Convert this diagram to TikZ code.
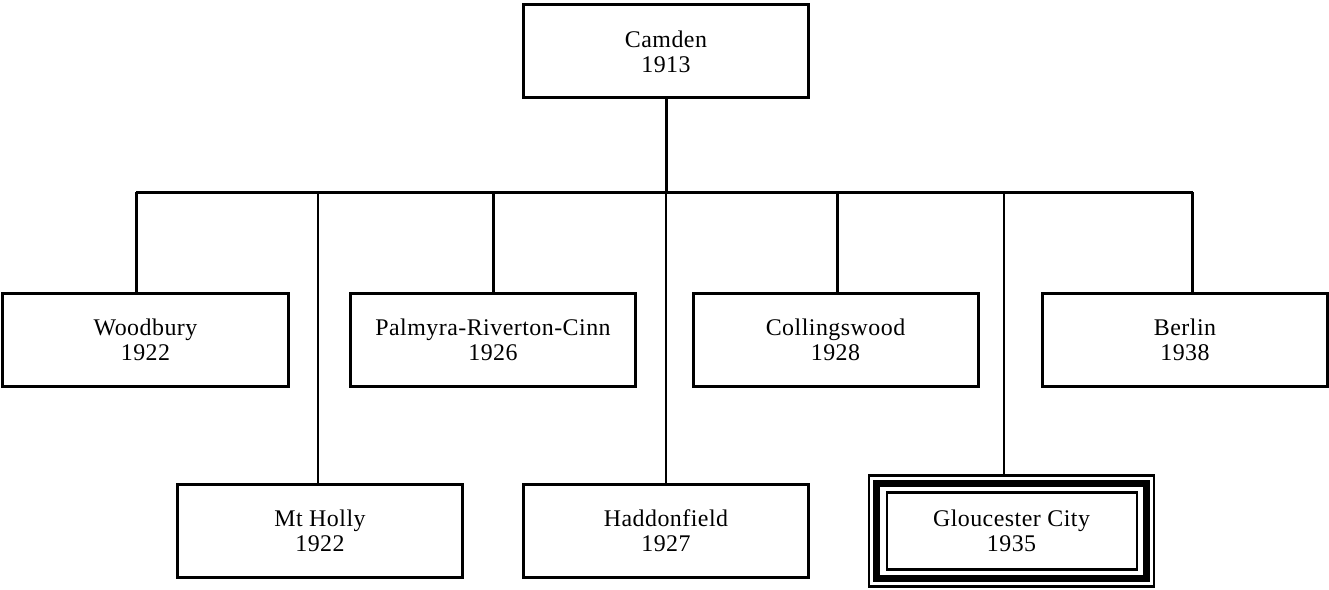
\documentclass[tikz,border=0pt]{standalone}
\usepackage{fontspec}
\setmainfont{Liberation Serif}[LetterSpace=2]
\usepackage{tikz}
\usetikzlibrary{positioning}

\begin{document}
\begin{tikzpicture}[x=1bp,y=-1bp,
  town/.style={rectangle,draw=black,fill=white,line width=3bp,
    minimum width=285bp,minimum height=93bp,align=center,
    font=\fontsize{24}{25}\selectfont},
  stem/.style={line width=3bp},
  longstem/.style={line width=2bp}]
  \useasboundingbox (0,0) rectangle (1329,590);
  % top of the tree
  \node[town] (camden) at (666,51.5) {Camden\\1913};
  \coordinate (busl) at (136,192);
  \coordinate (busr) at (1193,192);
  \coordinate (hub) at (666,192);
  \draw[stem] (camden) -- (hub);
  \draw[stem] (busl) -- (busr);
  % first row
  \node[town] (woodbury) at (145.5,340) {Woodbury\\1922};
  \node[town] (palmyra) at (493,340) {Palmyra-Riverton-Cinn\\1926};
  \node[town] (collingswood) at (835.5,340) {Collingswood\\1928};
  \node[town] (berlin) at (1185,340) {Berlin\\1938};
  % second row
  \node[town] (mtholly) at (320,531) {Mt Holly\\1922};
  \node[town] (haddonfield) at (666,531) {Haddonfield\\1927};
  \node[town,line width=2.3bp,minimum height=111bp] (gloucester) at (1011.5,531) {Gloucester City\\1935};
  \draw[line width=7bp] ([shift={(9,9)}]gloucester.north west) rectangle ([shift={(-9,-9)}]gloucester.south east);
  \draw[line width=2.5bp] ([shift={(19,18)}]gloucester.north west) rectangle ([shift={(-18,-18)}]gloucester.south east);
  % drops from the bus
  \coordinate (j1) at (136,192);
  \coordinate (j2) at (318,192);
  \coordinate (j3) at (493,192);
  \coordinate (j4) at (666,192);
  \coordinate (j5) at (837,192);
  \coordinate (j6) at (1004,192);
  \coordinate (j7) at (1192,192);
  \draw[stem] (j1) -- (j1 |- woodbury.north);
  \draw[longstem] (j2) -- (j2 |- mtholly.north);
  \draw[stem] (j3) -- (j3 |- palmyra.north);
  \draw[longstem] (j4) -- (j4 |- haddonfield.north);
  \draw[stem] (j5) -- (j5 |- collingswood.north);
  \draw[longstem] (j6) -- (j6 |- gloucester.north);
  \draw[stem] (j7) -- (j7 |- berlin.north);
\end{tikzpicture}
\end{document}
